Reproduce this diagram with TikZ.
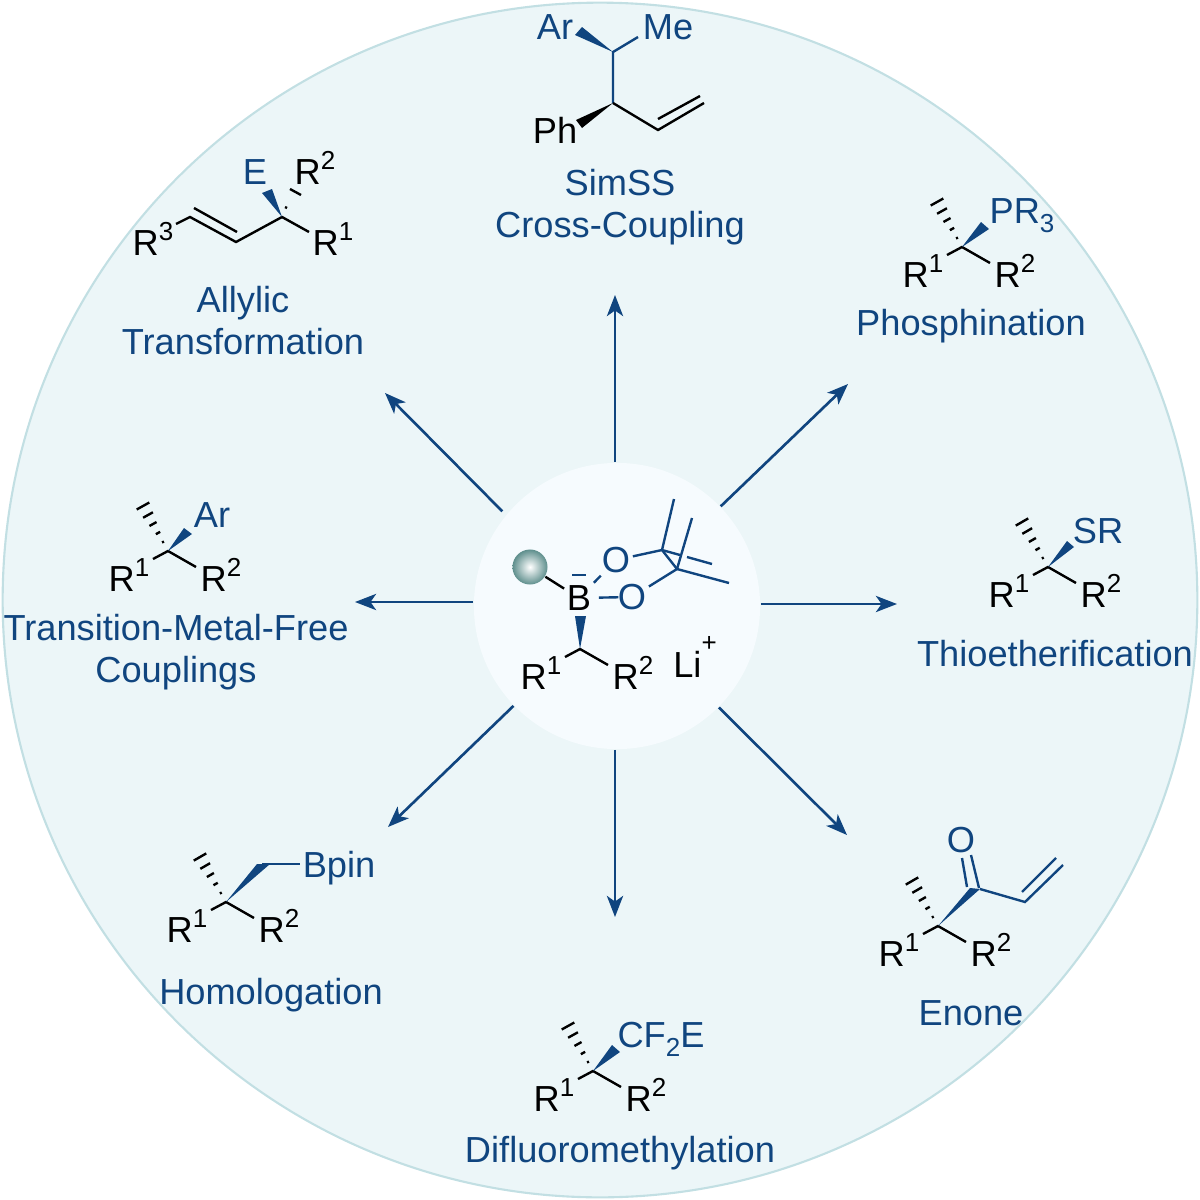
\documentclass[tikz,border=0pt]{standalone}
\usepackage{fontspec}
\setmainfont{Liberation Sans}
\usepackage{xcolor}
\usetikzlibrary{arrows.meta, positioning, calc}
\definecolor{dishfill}{HTML}{ECF6F8}
\definecolor{dishedge}{HTML}{C2DFE3}
\definecolor{hubfill}{HTML}{F6FBFE}
\definecolor{chemblue}{HTML}{10457F}
\definecolor{ballteal}{HTML}{5F8F8D}
\newcommand{\supr}[1]{\raisebox{0.4em}{\fontsize{7.4}{8}\selectfont #1}}
\newcommand{\subr}[1]{\raisebox{-0.26em}{\fontsize{7.4}{8}\selectfont #1}}
\tikzset{%
	dish/.style={
		circle,
		draw=dishedge,
		fill=dishfill,
		line width=0.6pt,
		inner sep=0pt
	},
	ray/.style={
		draw=chemblue,
		line width=0.75pt,
		-{Stealth[length=6pt,width=4.6pt,inset=1.6pt]}
	},
	inkbond/.style={draw=black, line width=0.68pt},
	bluebond/.style={draw=chemblue, line width=0.68pt},
	atom/.style={
		inner sep=0.6pt,
		font=\fontsize{10.3}{11}\selectfont
	},
	group/.style={
		anchor=base,
		inner sep=0pt,
		font=\fontsize{10.3}{11}\selectfont
	},
	bluegroup/.style={group, text=chemblue},
	rxnname/.style={
		align=center,
		inner sep=0pt,
		text=chemblue,
		font=\fontsize{10.3}{11.95}\selectfont
	},
}
% carbon with its two R groups
\newcommand{\alkylcore}[3]{%
	\begin{scope}[shift={(#2,#3)}]
		\coordinate (#1c) at (0,0);
		\coordinate (#1a) at (-15,8);
		\coordinate (#1b) at (28,16);
		\draw[inkbond] (#1a) -- (#1c) -- (#1b);
		\node[group] (#1r1) at (-39,40) {R\supr{1}};
		\node[group] (#1r2) at (53,40) {R\supr{2}};
	\end{scope}%
}
% hashed bond, narrow at the first coordinate
\newcommand{\hashbond}[2]{%
	\foreach \t/\w in {.2/.3,.4/.7,.6/1.15,.8/1.6,1/2.05}{
		\coordinate (hp) at ($(#1)!\t!(#2)$);
		\draw[inkbond] ($(hp)!\w pt!90:(#1)$) -- ($(hp)!\w pt!-90:(#1)$);
	}%
}
\begin{document}
\begin{tikzpicture}[x=0.01cm, y=-0.01cm]
	\useasboundingbox (0,0) rectangle (1200,1200);
	% Big disc and central disc
	\node[dish, minimum size=11.94cm] (dish) at (600,600) {};
	\node[circle, fill=hubfill, inner sep=0pt, minimum size=2.86cm] (hub) at (617,606) {};
	
	% Rays from the central disc
	\coordinate (tipn) at (615,295);
	\coordinate (tipne) at (848,384);
	\coordinate (tipe) at (897,604);
	\coordinate (tipse) at (847,835);
	\coordinate (tips) at (615,917);
	\coordinate (tipsw) at (388,827);
	\coordinate (tipw) at (355,602);
	\coordinate (tipnw) at (385,393);
	\draw[ray] (hub.north -| tipn) -- (tipn);
	\draw[ray] (hub) -- (tipne);
	\draw[ray] (hub.east |- tipe) -- (tipe);
	\draw[ray] (hub) -- (tipse);
	\draw[ray] (hub.south -| tips) -- (tips);
	\draw[ray] (hub) -- (tipsw);
	\draw[ray] (hub.west |- tipw) -- (tipw);
	\draw[ray] ([shift={(-13,7)}]hub.135) -- (tipnw);
	
	% Boronate complex in the centre
	\node[circle, shading=radial, inner color=white, outer color=ballteal, inner sep=0pt, minimum size=0.35cm] (ball) at (530,567) {};
	\node[atom] (boron) at (579,598) {B};
	\node[atom, text=chemblue] (oxa) at (616,560) {O};
	\node[atom, text=chemblue] (oxb) at (632,597) {O};
	\coordinate (pina) at (662,550);
	\coordinate (pinb) at (677,569);
	\coordinate (pinaup) at (674,499);
	\coordinate (pinbup) at (692,518);
	\coordinate (pinbright) at (729,583);
	\coordinate (pinamid) at (680,555);
	\coordinate (pinagap) at (687,557);
	\coordinate (pinaright) at (712,564);
	\coordinate (minusl) at (572,575);
	\coordinate (minusr) at (586,575);
	\draw[inkbond] (ball) -- (boron);
	\draw[bluebond] (minusl) -- (minusr);
	\draw[bluebond] (boron) -- (oxa);
	\draw[bluebond, shorten <=1.4pt, shorten >=-0.9pt] (boron) -- (oxb);
	\draw[bluebond] (oxa) -- (pina) -- (pinb) -- (oxb);
	\draw[bluebond] (pinaup) -- (pina) -- (pinamid);
	\draw[bluebond] (pinagap) -- (pinaright);
	\draw[bluebond] (pinbup) -- (pinb) -- (pinbright);
	\alkylcore{hub}{580}{649}
	\fill[chemblue] (hubc) -- (575,616) -- (586,616) -- cycle;
	\node[group] (lithium) at (695,677) {Li\raisebox{0.7em}{\fontsize{7.4}{8}\selectfont +}};
	
	% SimSS product
	\coordinate (topc) at (613,52);
	\coordinate (topme) at (638,37);
	\coordinate (midc) at (613,103);
	\coordinate (vina) at (658,130);
	\coordinate (vinb) at (704,103);
	\coordinate (vinc) at (658,119);
	\coordinate (vind) at (700,96);
	\fill[chemblue] (topc) -- (575,35) -- (582,27) -- cycle;
	\fill[black] (midc) -- (576,120) -- (582,128) -- cycle;
	\draw[bluebond] (topme) -- (topc) -- (midc);
	\draw[inkbond] (midc) -- (vina) -- (vinb);
	\draw[inkbond] (vinc) -- (vind);
	\node[bluegroup] (ar) at (555,39) {Ar};
	\node[bluegroup] (me) at (668,39) {Me};
	\node[group] (ph) at (555,143) {Ph};
	\node[rxnname] (simss) at (620,207) {SimSS\\Cross-Coupling};
	
	% Phosphination
	\alkylcore{pho}{962}{247}
	\coordinate (phohash) at (937,202);
	\hashbond{phoc}{phohash}
	\fill[chemblue] (phoc) -- (981,222) -- (989,229) -- cycle;
	\node[bluegroup] (pr) at (1022,223) {PR\subr{3}};
	\node[rxnname, anchor=base] (phoname) at (971,335) {Phosphination};
	
	% Thioetherification
	\alkylcore{thi}{1048}{567}
	\coordinate (thihash) at (1022,522);
	\hashbond{thic}{thihash}
	\fill[chemblue] (thic) -- (1067,541) -- (1074,547) -- cycle;
	\node[bluegroup] (sr) at (1098,543) {SR};
	\node[rxnname, anchor=base] (thiname) at (1055,666) {Thioetherification};
	
	% Enone
	\alkylcore{eno}{938}{926}
	\coordinate (enohash) at (912,881);
	\hashbond{enoc}{enohash}
	\coordinate (enoco) at (980,889);
	\coordinate (enod) at (1025,902);
	\coordinate (enoe) at (1063,865);
	\coordinate (enof) at (1022,892);
	\coordinate (enog) at (1056,858);
	\coordinate (enoh) at (967,887);
	\coordinate (enoi) at (962,858);
	\coordinate (enoj) at (979,888);
	\coordinate (enok) at (971,855);
	\fill[chemblue] (enoc) -- (970,888) -- (enoco) -- cycle;
	\draw[bluebond] (enoco) -- (enod) -- (enoe);
	\draw[bluebond] (enof) -- (enog);
	\draw[bluebond] (enoh) -- (enoi);
	\draw[bluebond] (enoj) -- (enok);
	\node[atom, text=chemblue] (oxo) at (961,840) {O};
	\node[rxnname, anchor=base] (enoname) at (971,1025) {Enone};
	
	% Difluoromethylation
	\alkylcore{dif}{593}{1071}
	\coordinate (difhash) at (568,1026);
	\hashbond{difc}{difhash}
	\fill[chemblue] (difc) -- (612,1045) -- (620,1052) -- cycle;
	\node[bluegroup] (cf) at (661,1047) {CF\subr{2}E};
	\node[rxnname, anchor=base] (difname) at (620,1162) {Difluoromethylation};
	
	% Homologation
	\alkylcore{hom}{226}{902}
	\coordinate (homhash) at (200,857);
	\hashbond{homc}{homhash}
	\coordinate (homd) at (262,864);
	\coordinate (home) at (300,864);
	\fill[chemblue] (homc) -- (257,864) -- (270,864) -- cycle;
	\draw[bluebond] (homd) -- (home);
	\node[bluegroup] (bpin) at (339,877) {Bpin};
	\node[rxnname, anchor=base] (homname) at (271,1004) {Homologation};
	
	% Transition-metal-free couplings
	\alkylcore{tmf}{168}{551}
	\coordinate (tmfhash) at (143,506);
	\hashbond{tmfc}{tmfhash}
	\fill[chemblue] (tmfc) -- (184,528) -- (192,534) -- cycle;
	\node[bluegroup] (arb) at (212,527) {Ar};
	\node[rxnname] (tmfname) at (176,652) {Transition-Metal-Free\\Couplings};
	
	% Allylic transformation
	\coordinate (allc) at (282,217);
	\coordinate (allr) at (309,232);
	\coordinate (alld) at (236,242);
	\coordinate (alle) at (190,217);
	\coordinate (allf) at (176,224);
	\coordinate (allg) at (237,232);
	\coordinate (allh) at (194,208);
	\coordinate (alli) at (290,189);
	\coordinate (allj) at (301,195);
	\coordinate (allk) at (285,207);
	\coordinate (alll) at (287,208);
	\draw[inkbond] (allr) -- (allc) -- (alld) -- (alle) -- (allf);
	\draw[inkbond] (allg) -- (allh);
	\draw[inkbond] (alli) -- (allj);
	\draw[inkbond] (allk) -- (alll);
	\fill[chemblue] (allc) -- (262,193) -- (272,189) -- cycle;
	\node[bluegroup] (ee) at (255,184) {E};
	\node[group] (allrb) at (315,184) {R\supr{2}};
	\node[group] (allra) at (333,255) {R\supr{1}};
	\node[group] (allrc) at (153,255) {R\supr{3}};
	\node[rxnname] (allname) at (243,321) {Allylic\\Transformation};
\end{tikzpicture}
\end{document}
